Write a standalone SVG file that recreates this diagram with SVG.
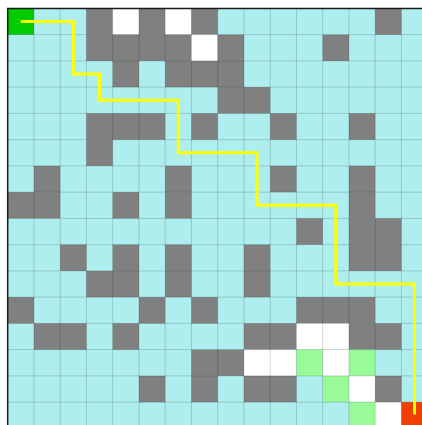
<svg xmlns="http://www.w3.org/2000/svg" width="422" height="425" viewBox="0 0 422 425">
<style>
.c{fill:#afeeee}.g{fill:#808080}.w{fill:#ffffff}.l{fill:#98fb98}.s{fill:#00cc00}.e{fill:#f04000}
.grid{fill:none;stroke:#000;stroke-opacity:0.16;stroke-width:1}
.route{fill:none;stroke:#ffff00;stroke-width:3;stroke-linejoin:miter}
.frame{fill:none;stroke:#1a1a1a;stroke-width:1.5}
</style>
<rect width="422" height="425" fill="#ffffff"/>
<g id="grid" transform="translate(7.7,8.4) scale(26.25)">
<rect class="c" x="0" y="0" width="16" height="16"/>
<g id="row0"><rect class="s" x="0" y="0" width="1" height="1"/><rect class="g" x="3" y="0" width="1" height="1"/><rect class="w" x="4" y="0" width="1" height="1"/><rect class="g" x="5" y="0" width="1" height="1"/><rect class="w" x="6" y="0" width="1" height="1"/><rect class="g" x="7" y="0" width="1" height="1"/><rect class="g" x="14" y="0" width="1" height="1"/></g>
<g id="row1"><rect class="g" x="3" y="1" width="4" height="1"/><rect class="w" x="7" y="1" width="1" height="1"/><rect class="g" x="8" y="1" width="1" height="1"/><rect class="g" x="12" y="1" width="1" height="1"/></g>
<g id="row2"><rect class="g" x="4" y="2" width="1" height="1"/><rect class="g" x="6" y="2" width="3" height="1"/></g>
<g id="row3"><rect class="g" x="8" y="3" width="2" height="1"/></g>
<g id="row4"><rect class="g" x="3" y="4" width="3" height="1"/><rect class="g" x="7" y="4" width="1" height="1"/><rect class="g" x="10" y="4" width="1" height="1"/><rect class="g" x="13" y="4" width="1" height="1"/></g>
<g id="row5"><rect class="g" x="3" y="5" width="1" height="1"/></g>
<g id="row6"><rect class="g" x="1" y="6" width="1" height="1"/><rect class="g" x="6" y="6" width="1" height="1"/><rect class="g" x="10" y="6" width="1" height="1"/><rect class="g" x="13" y="6" width="1" height="1"/></g>
<g id="row7"><rect class="g" x="0" y="7" width="2" height="1"/><rect class="g" x="4" y="7" width="1" height="1"/><rect class="g" x="6" y="7" width="1" height="1"/><rect class="g" x="13" y="7" width="1" height="1"/></g>
<g id="row8"><rect class="g" x="11" y="8" width="1" height="1"/><rect class="g" x="13" y="8" width="2" height="1"/></g>
<g id="row9"><rect class="g" x="2" y="9" width="1" height="1"/><rect class="g" x="4" y="9" width="1" height="1"/><rect class="g" x="6" y="9" width="1" height="1"/><rect class="g" x="9" y="9" width="1" height="1"/><rect class="g" x="13" y="9" width="2" height="1"/></g>
<g id="row10"><rect class="g" x="3" y="10" width="2" height="1"/><rect class="g" x="6" y="10" width="1" height="1"/><rect class="g" x="9" y="10" width="1" height="1"/></g>
<g id="row11"><rect class="g" x="0" y="11" width="1" height="1"/><rect class="g" x="5" y="11" width="1" height="1"/><rect class="g" x="7" y="11" width="1" height="1"/><rect class="g" x="11" y="11" width="3" height="1"/></g>
<g id="row12"><rect class="g" x="1" y="12" width="2" height="1"/><rect class="g" x="4" y="12" width="1" height="1"/><rect class="g" x="9" y="12" width="2" height="1"/><rect class="w" x="11" y="12" width="2" height="1"/><rect class="g" x="13" y="12" width="2" height="1"/></g>
<g id="row13"><rect class="g" x="7" y="13" width="2" height="1"/><rect class="w" x="9" y="13" width="2" height="1"/><rect class="l" x="11" y="13" width="1" height="1"/><rect class="w" x="12" y="13" width="1" height="1"/><rect class="l" x="13" y="13" width="1" height="1"/></g>
<g id="row14"><rect class="g" x="5" y="14" width="1" height="1"/><rect class="g" x="7" y="14" width="1" height="1"/><rect class="g" x="9" y="14" width="2" height="1"/><rect class="l" x="12" y="14" width="1" height="1"/><rect class="w" x="13" y="14" width="1" height="1"/><rect class="g" x="14" y="14" width="1" height="1"/></g>
<g id="row15"><rect class="l" x="13" y="15" width="1" height="1"/><rect class="w" x="14" y="15" width="1" height="1"/><rect class="e" x="15" y="15" width="1" height="1"/></g>
<path class="grid" vector-effect="non-scaling-stroke" d="M1 0V16M2 0V16M3 0V16M4 0V16M5 0V16M6 0V16M7 0V16M8 0V16M9 0V16M10 0V16M11 0V16M12 0V16M13 0V16M14 0V16M15 0V16M0 1H16M0 2H16M0 3H16M0 4H16M0 5H16M0 6H16M0 7H16M0 8H16M0 9H16M0 10H16M0 11H16M0 12H16M0 13H16M0 14H16M0 15H16"/>
</g>
<g id="connectors">
<path class="route" d="M20.8 21.5H73.3V74H99.6V100.3H178.3V152.8H257V205.3H335.8V284H414.5V414.5"/>
</g>
<path class="frame" d="M7.7 425V8.4H422"/>
</svg>
